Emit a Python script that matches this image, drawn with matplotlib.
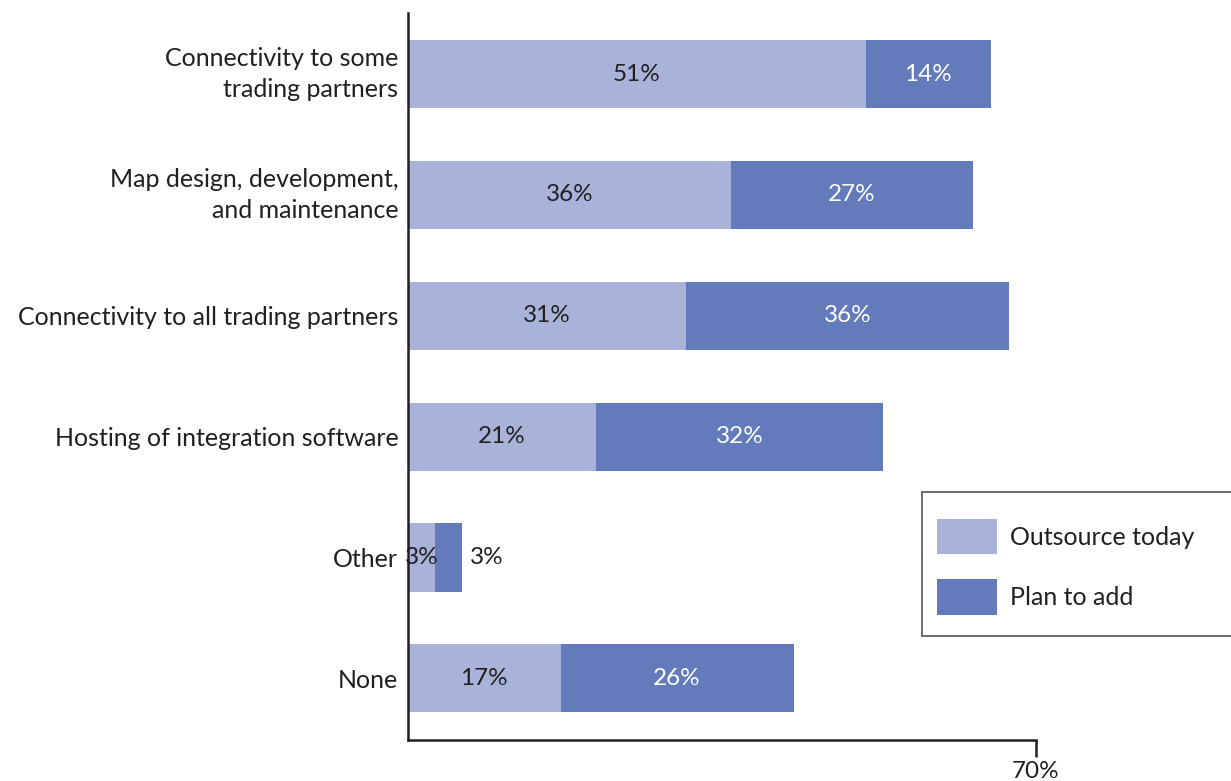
import matplotlib
matplotlib.use("Agg")
import matplotlib.pyplot as plt
from matplotlib.patches import Rectangle
import numpy as np

categories = ["Connectivity to some\ntrading partners",
              "Map design, development,\nand maintenance",
              "Connectivity to all trading partners",
              "Hosting of integration software",
              "Other",
              "None"]
outsource_today = [51, 36, 31, 21, 3, 17]
plan_to_add = [14, 27, 36, 32, 3, 26]
series_names = ["Outsource today", "Plan to add"]

light = "#a9b3d9"
dark = "#637bbb"
ink = "#231f20"

plt.rcParams['font.family'] = ['Lato', 'DejaVu Sans']
FS = 18
VFS = 17.5

W, H = 1231, 781
fig = plt.figure(figsize=(W/100, H/100), dpi=100)
ax = fig.add_axes([408/W, 1-740/H, (1036-408)/W, (740-13)/H])

y = np.arange(len(categories))
bh = 0.563
b1 = ax.barh(y, outsource_today, height=bh, color=light, label=series_names[0])
b2 = ax.barh(y, plan_to_add, left=outsource_today, height=bh, color=dark, label=series_names[1])

for i in range(len(categories)):
    a, b = outsource_today[i], plan_to_add[i]
    ax.text(a/2, y[i], f"{a}%", ha="center", va="center", color=ink, fontsize=VFS)
    if b >= 5:
        ax.text(a + b/2, y[i], f"{b}%", ha="center", va="center", color="white", fontsize=VFS)
    else:
        ax.text(a + b + 0.9, y[i], f"{b}%", ha="left", va="center", color=ink, fontsize=VFS)

ax.set_xlim(0, 70)
ax.set_ylim(5.51, -0.505)
ax.set_yticks(y)
labels = ax.set_yticklabels(categories, fontsize=FS, color=ink, linespacing=1.45)
for lab in labels:
    if "\n" in lab.get_text():
        lab.set_verticalalignment("center")
ax.tick_params(axis="y", length=0, pad=7)
ax.set_xticks([70])
ax.set_xticklabels(["70%"], fontsize=VFS, color=ink)
ax.tick_params(axis="x", direction="out", length=12, width=1.8, color=ink, pad=3)
for s in ["top", "right"]:
    ax.spines[s].set_visible(False)
for s in ["left", "bottom"]:
    ax.spines[s].set_color(ink)
    ax.spines[s].set_linewidth(1.8)

# legend frame
fig.patches.append(Rectangle((922/W, 1-636/H), 330/W, 144/H, transform=fig.transFigure,
                             facecolor="white", edgecolor="#555555", linewidth=1.2, zorder=1))
leg = fig.legend(handles=[b1, b2], labels=series_names,
                 loc="upper left", bbox_to_anchor=(937/W, 1-519/H),
                 borderaxespad=0, borderpad=0, fontsize=FS,
                 handlelength=2.4, handleheight=1.8, labelspacing=1.0,
                 handletextpad=0.5, frameon=False)
leg.set_zorder(2)
for t in leg.get_texts():
    t.set_color(ink)

fig.savefig("out.png", dpi=100)
